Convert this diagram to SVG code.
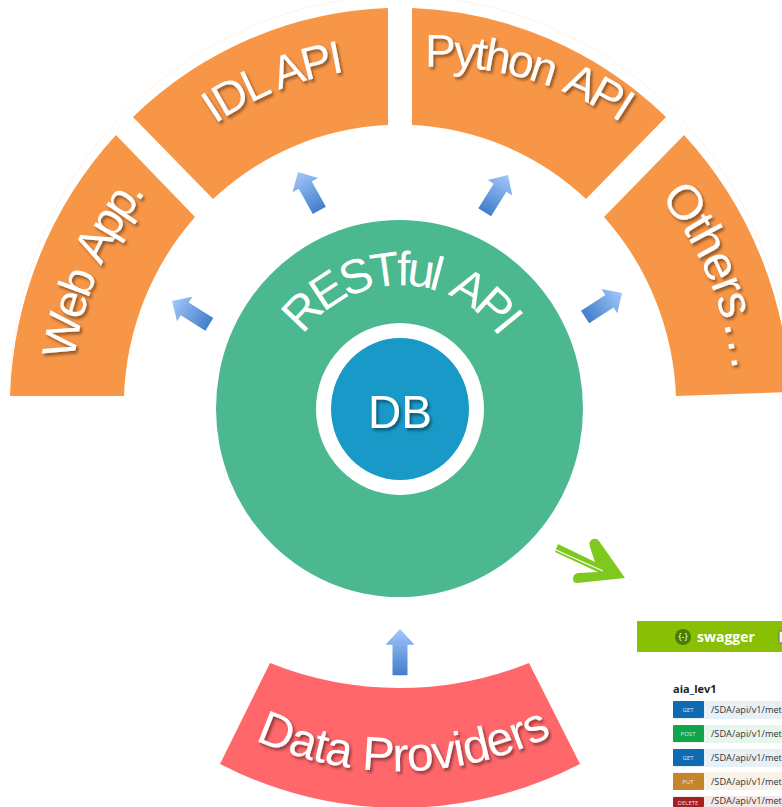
<svg xmlns="http://www.w3.org/2000/svg" xmlns:xlink="http://www.w3.org/1999/xlink" width="782" height="807" viewBox="0 0 782 807">
<style>
.o{fill:#f89647}
.t{font-family:"Liberation Sans",Arial,sans-serif;fill:#fff}
.s{filter:url(#ds)}
.b{font-family:"Open Sans","Liberation Sans",sans-serif;font-size:6px;fill:#fff;fill-opacity:.85;text-anchor:middle}
.p{font-family:"Open Sans","Liberation Sans",sans-serif;font-size:9.200px;fill:#333}
</style>
<defs>
<linearGradient id="ag" gradientUnits="userSpaceOnUse" x1="0" y1="0" x2="0" y2="46"><stop offset="0" stop-color="#a3c7fb"/><stop offset="1" stop-color="#3d7bca"/></linearGradient>
<filter id="ds" x="-20%" y="-20%" width="140%" height="140%"><feDropShadow dx="2" dy="2.500" stdDeviation="1.600" flood-color="#000" flood-opacity=".45"/></filter>
<path id="ar" d="M0,0L14.500,15H7.500V44H-7.500V15H-14.500Z" fill="url(#ag)"/>
<path id="pw" d="M74,360A333 340 0 0 1 400,68"/>
<path id="pi" d="M215,124A333 340 0 0 1 600,136"/>
<path id="pp" d="M425,67A333 340 0 0 1 760,320"/>
<path id="po" d="M660,197A333 340 0 0 1 735,420"/>
<path id="pd" d="M255,740A355 363 0 0 0 610,700"/>
<path id="pr" d="M303,335A122 125 0 0 1 522,400"/>
</defs>
<rect width="782" height="807" fill="#fff"/>
<path d="M10,396A390 400 0 0 1 790,396" fill="none" stroke="#fef3ea"/>
<g id="connectors">
<use xlink:href="#ar" href="#ar" transform="translate(172,301) rotate(-58)"/>
<use xlink:href="#ar" href="#ar" transform="translate(298,172) rotate(-29)"/>
<use xlink:href="#ar" href="#ar" transform="translate(508,175) rotate(32)"/>
<use xlink:href="#ar" href="#ar" transform="translate(622,293) rotate(57)"/>
<use xlink:href="#ar" href="#ar" transform="translate(400,629) scale(1,1.05)"/>
</g>
<g id="web-app"><path class="o" d="M10,396A390 400 0 0 1 116,135L195,217A276 283 0 0 0 124,396Z"/>
<text class="t s" font-size="47" letter-spacing="-3.500" word-spacing="6"><textPath href="#pw" xlink:href="#pw">Web App.</textPath></text></g>
<g id="idl-api"><path class="o" d="M133,117A390 400 0 0 1 388,8V125A276 283 0 0 0 213,199Z"/>
<text class="t s" font-size="46" letter-spacing="-2.500" word-spacing="2"><textPath href="#pi" xlink:href="#pi">IDL API</textPath></text></g>
<g id="python-api"><path class="o" d="M412,8A390 400 0 0 1 666,117L586,199A276 283 0 0 0 412,125Z"/>
<text class="t s" font-size="46" letter-spacing="-2.800" word-spacing="5"><textPath href="#pp" xlink:href="#pp">Python API</textPath></text></g>
<g id="others"><path class="o" d="M684,135A390 400 0 0 1 790,392L676,396A276 283 0 0 0 604,217Z"/>
<text class="t s" font-size="49" letter-spacing="-1.500" word-spacing="-7.500"><textPath href="#po" xlink:href="#po">Others . . .</textPath></text></g>
<g id="restful-api"><ellipse cx="399.500" cy="408.500" rx="183.500" ry="188.500" fill="#4cb88f"/>
<text class="t" font-size="48" letter-spacing="-4.500" word-spacing="8"><textPath href="#pr" xlink:href="#pr">RESTful API</textPath></text></g>
<g id="db"><ellipse cx="400" cy="409" rx="84" ry="86" fill="#fff"/><ellipse cx="400" cy="409" rx="69" ry="71" fill="#1899c8"/>
<text class="t s" x="400" y="428" font-size="46" text-anchor="middle">DB</text></g>
<g id="data-providers"><path d="M270,663A355 363 0 0 0 529,663L580,764A400 410 0 0 1 220,764Z" fill="#ff676a"/>
<text class="t s" font-size="48" letter-spacing="-.8"><textPath href="#pd" xlink:href="#pd">Data Providers</textPath></text></g>
<g id="green-arrow"><path d="M558,544L595,562L590,547Q588,541 593,539Q597,538 599,541L625,578L577,583Q573,583 573,579Q573,574 578,573L598,572L555,552Z" fill="#7fc81e"/>
<path d="M556,550L603,571" stroke="#fff" stroke-width="1.200"/></g>
<g id="swagger">
<rect x="637" y="621" width="145" height="31" fill="#89bf04"/>
<circle cx="683" cy="637" r="8" fill="#4a7c00"/>
<text x="683" y="640" font-family="'Open Sans',sans-serif" font-size="9" fill="#fff" text-anchor="middle">{-}</text>
<text x="697" y="642" font-family="'Open Sans',sans-serif" font-size="14" font-weight="700" fill="#fff">swagger</text>
<rect x="779" y="631" width="5" height="12" rx="1" fill="#f4f4f4" stroke="#666"/>
<text x="673" y="693" font-family="'Open Sans',sans-serif" font-size="11" font-weight="700" fill="#222">aia_lev1</text>
<rect x="673" y="701" width="109" height="18" fill="#e7f0f7"/><rect x="673" y="701" width="31" height="17" rx="1" fill="#0f6ab4"/><text class="b" x="688" y="712">GET</text><text class="p" x="711" y="713">/SDA/api/v1/met</text>
<rect x="673" y="725" width="109" height="18" fill="#e7f6ec"/><rect x="673" y="725" width="31" height="17" rx="1" fill="#10a54a"/><text class="b" x="688" y="736">POST</text><text class="p" x="711" y="737">/SDA/api/v1/met</text>
<rect x="673" y="749" width="109" height="18" fill="#e7f0f7"/><rect x="673" y="749" width="31" height="17" rx="1" fill="#0f6ab4"/><text class="b" x="688" y="760">GET</text><text class="p" x="711" y="761">/SDA/api/v1/met</text>
<rect x="673" y="772" width="109" height="18" fill="#f9f2e9"/><rect x="673" y="773" width="31" height="17" rx="1" fill="#c5862b"/><text class="b" x="688" y="784">PUT</text><text class="p" x="711" y="785">/SDA/api/v1/met</text>
<rect x="673" y="796" width="109" height="11" fill="#f5e8e8"/><rect x="673" y="797" width="31" height="10" rx="1" fill="#a41e22"/><text class="b" x="688" y="804.500">DELETE</text><text class="p" x="711" y="804">/SDA/api/v1/met</text>
</g>
</svg>
